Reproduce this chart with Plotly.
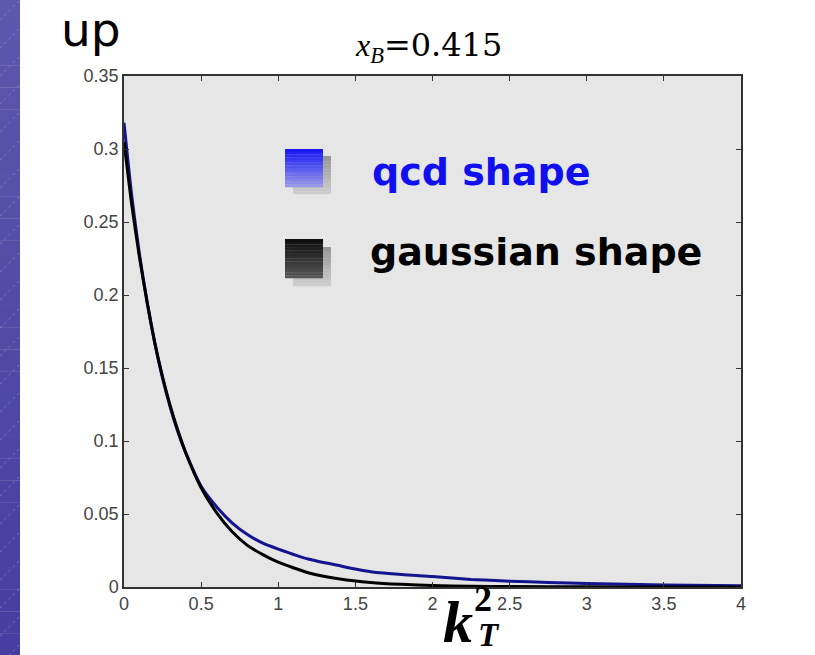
import plotly.graph_objects as go

# k_T^2 grid and the two transverse-momentum distributions
kt2_qcd = [0.0, 0.05, 0.1, 0.15, 0.2, 0.25, 0.3, 0.35, 0.4, 0.5, 0.6, 0.7, 0.8, 0.9,
           1.0, 1.2, 1.4, 1.5, 1.6, 1.8, 2.0, 2.25, 2.5, 2.75, 3.0, 3.5, 4.0]
qcd_shape = [0.318, 0.268, 0.228, 0.195, 0.167, 0.143, 0.123, 0.106, 0.092, 0.069, 0.055,
             0.044, 0.036, 0.030, 0.026, 0.019, 0.0145, 0.0123, 0.0105, 0.0085, 0.0072,
             0.0052, 0.0040, 0.0031, 0.0024, 0.0014, 0.0008]

kt2_gauss = [0.0, 0.05, 0.1, 0.15, 0.2, 0.25, 0.3, 0.35, 0.4, 0.5, 0.6, 0.7, 0.8, 0.9,
             1.0, 1.2, 1.4, 1.6, 1.8, 2.0, 2.25, 2.5, 3.0, 3.5, 4.0]
gauss_shape = [0.305, 0.262, 0.226, 0.195, 0.167, 0.144, 0.124, 0.107, 0.092, 0.068, 0.051,
               0.038, 0.0285, 0.0222, 0.0170, 0.0096, 0.0055, 0.0031, 0.0018, 0.0010,
               0.0005, 0.0003, 0.0001, 0.0, 0.0]

x_ticks = [0, 0.5, 1, 1.5, 2, 2.5, 3, 3.5, 4]
x_tick_text = ["0", "0.5", "1", "1.5", "2", "2.5", "3", "3.5", "4"]
y_ticks = [0, 0.05, 0.1, 0.15, 0.2, 0.25, 0.3, 0.35]
y_tick_text = ["0", "0.05", "0.1", "0.15", "0.2", "0.25", "0.3", "0.35"]

W, H = 815, 655
L, R, T, B = 124, 741, 76, 587  # plot area in pixels
PW, PH = R - L, B - T


def px(x):
    return (x - L) / PW


def py(y):
    return (B - y) / PH


fig = go.Figure()
fig.add_trace(go.Scatter(x=kt2_qcd, y=qcd_shape, mode="lines",
                         line=dict(color="#14148f", width=3, shape="spline", smoothing=0.6),
                         showlegend=False, hoverinfo="skip"))
fig.add_trace(go.Scatter(x=kt2_gauss, y=gauss_shape, mode="lines",
                         line=dict(color="#000000", width=3, shape="spline", smoothing=0.6),
                         showlegend=False, hoverinfo="skip"))

shapes = []


def lerp(c1, c2, t):
    return "rgb(%d,%d,%d)" % tuple(round(a + (b - a) * t) for a, b in zip(c1, c2))


def gradient_box(x0, y0, x1, y1, top, bottom, n=14, layer="above"):
    step = (y1 - y0) / n
    for i in range(n):
        shapes.append(dict(type="rect", xref="paper", yref="paper",
                           x0=px(x0), x1=px(x1), y0=py(y0 + step * (i + 1) + 0.3),
                           y1=py(y0 + step * i),
                           fillcolor=lerp(top, bottom, i / (n - 1)),
                           line=dict(width=0), layer=layer))


# purple side band with faint diagonal hatching
gradient_box(0, 0, 20, H, (92, 88, 172), (70, 62, 160), n=30, layer="below")
for k in range(-2, 26):
    y0 = k * 28 + 20
    shapes.append(dict(type="line", xref="paper", yref="paper",
                       x0=px(0), y0=py(y0), x1=px(20), y1=py(y0 - 20),
                       line=dict(color="rgba(190,190,235,0.35)", width=1, dash="dot"),
                       layer="below"))

# legend swatches with drop shadows
gradient_box(293, 156, 331, 194, (150, 150, 150), (205, 205, 205))
gradient_box(285, 149, 323, 187, (25, 25, 245), (150, 150, 235))
gradient_box(293, 247, 331, 286, (150, 150, 150), (205, 205, 205))
gradient_box(285, 239, 323, 278, (15, 15, 15), (85, 85, 85))

serif_i = "font-family:'Liberation Serif';font-style:italic"
annotations = [
    dict(text="up", x=px(59), y=py(0), xanchor="left", yanchor="top",
         font=dict(family="DejaVu Sans", size=47, color="#000")),
    dict(text=f"<span style=\"{serif_i}\">x</span><sub><span style=\"{serif_i}\">B</span></sub>=0.415",
         x=px(428), y=py(47), xanchor="center", yanchor="middle",
         font=dict(family="DejaVu Serif", size=32, color="#000")),
    dict(text="<b>qcd shape</b>", x=px(370), y=py(172), xanchor="left", yanchor="middle",
         font=dict(family="DejaVu Sans", size=38, color="#1010ee")),
    dict(text="<b>gaussian shape</b>", x=px(368), y=py(252), xanchor="left", yanchor="middle",
         font=dict(family="DejaVu Sans", size=38, color="#000")),
    dict(text="<b><i>k</i></b>", x=px(458), y=py(622), xanchor="center", yanchor="middle",
         font=dict(family="Liberation Serif", size=60, color="#000")),
    dict(text="<b>2</b>", x=px(483), y=py(599), xanchor="center", yanchor="middle",
         font=dict(family="Liberation Serif", size=36, color="#000")),
    dict(text="<b><i>T</i></b>", x=px(489), y=py(635), xanchor="center", yanchor="middle",
         font=dict(family="Liberation Serif", size=33, color="#000")),
]
for a in annotations:
    a.update(xref="paper", yref="paper", showarrow=False)

axis_common = dict(showline=True, linecolor="#333", linewidth=1.5, mirror="ticks",
                   ticks="inside", ticklen=5, tickcolor="#333", tickwidth=1,
                   showgrid=False, zeroline=False,
                   tickfont=dict(family="Liberation Sans", size=18, color="#444"))

fig.update_layout(
    width=W, height=H,
    margin=dict(l=L, r=W - R, t=T, b=H - B),
    paper_bgcolor="#ffffff", plot_bgcolor="#e6e6e6",
    xaxis=dict(range=[0, 4], tickvals=x_ticks, ticktext=x_tick_text, **axis_common),
    yaxis=dict(range=[0, 0.35], tickvals=y_ticks, ticktext=y_tick_text, **axis_common),
    shapes=shapes, annotations=annotations,
)

fig.write_html("out.html")
